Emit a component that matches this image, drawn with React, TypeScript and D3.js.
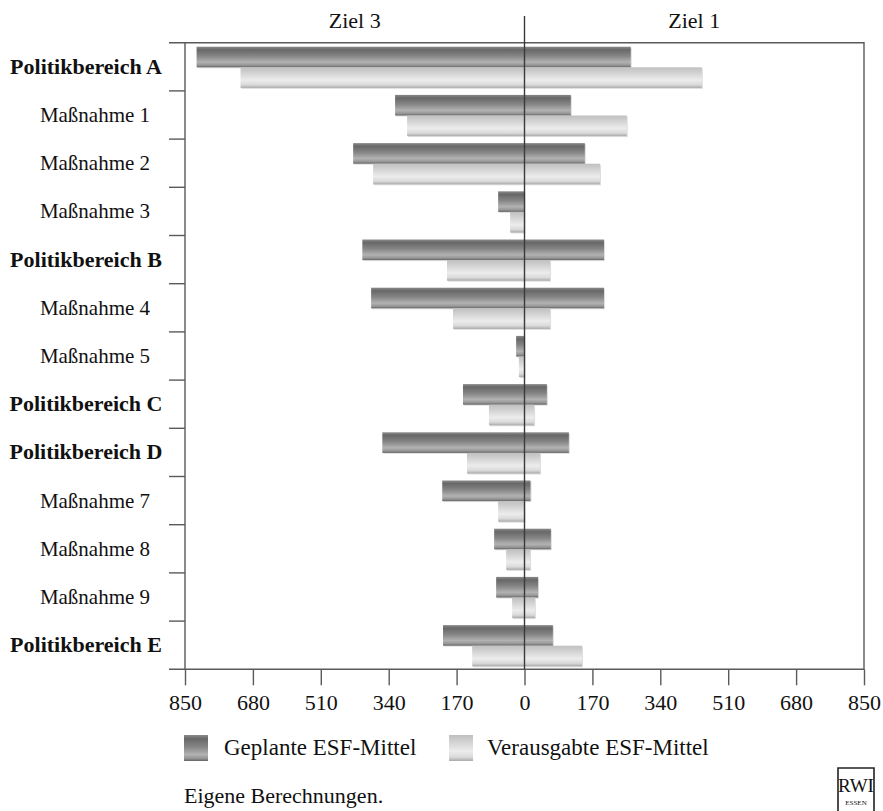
import * as React from 'react';
import { useEffect, useRef } from 'react';
import * as d3 from 'd3';

const categories = [
  'Politikbereich A', 'Maßnahme 1', 'Maßnahme 2', 'Maßnahme 3',
  'Politikbereich B', 'Maßnahme 4', 'Maßnahme 5',
  'Politikbereich C', 'Politikbereich D',
  'Maßnahme 7', 'Maßnahme 8', 'Maßnahme 9', 'Politikbereich E'
];
// Ziel 3 (left) and Ziel 1 (right), in the same order as categories
const geplantZiel3 = [821, 324, 429, 66, 406, 384, 21, 154, 356, 206, 76, 71, 204];
const geplantZiel1 = [266, 116, 151, 0, 199, 199, 0, 56, 111, 15, 66, 34, 71];
const verausgabtZiel3 = [711, 294, 379, 36, 194, 179, 14, 89, 144, 66, 46, 31, 131];
const verausgabtZiel1 = [444, 256, 189, 0, 64, 64, 0, 24, 39, 0, 14, 26, 144];
const tickValues = [-850, -680, -510, -340, -170, 0, 170, 340, 510, 680, 850];
const seriesNames = ['Geplante ESF-Mittel', 'Verausgabte ESF-Mittel'];

const W = 883;
const H = 811;
const FONT = 'Liberation Serif, Times New Roman, serif';

export default function App() {
  const ref = useRef<SVGSVGElement | null>(null);

  useEffect(() => {
    const svg = d3.select(ref.current);
    svg.selectAll('*').remove();

    const left = 185, right = 864, top = 42.7, bottom = 669.3;
    const x = d3.scaleLinear().domain([-850, 850]).range([left, right]);
    const y = d3.scaleBand().domain(categories).range([top, bottom]);
    const bh = 20.6;

    const defs = svg.append('defs');
    const grad = (id: string, stops: [number, string][]) => {
      const g = defs.append('linearGradient').attr('id', id)
        .attr('x1', 0).attr('y1', 0).attr('x2', 0).attr('y2', 1);
      stops.forEach(([o, c]) => g.append('stop').attr('offset', o).attr('stop-color', c));
    };
    grad('dark', [[0, '#8a8a8a'], [0.15, '#686868'], [0.45, '#858585'], [0.75, '#b2b2b2'], [0.9, '#969696'], [1, '#646464']]);
    grad('light', [[0, '#c0c0c0'], [0.2, '#cdcdcd'], [0.62, '#ececec'], [0.85, '#dadada'], [1, '#aaaaaa']]);

    const txt = (sel: any, size: number, weight = 'normal') =>
      sel.attr('font-family', FONT).attr('font-size', size).attr('font-weight', weight).attr('fill', '#111');

    // header
    txt(svg.append('text').attr('x', x(-425)).attr('y', 28).attr('text-anchor', 'middle'), 22).text('Ziel 3');
    txt(svg.append('text').attr('x', x(425)).attr('y', 28).attr('text-anchor', 'middle'), 22).text('Ziel 1');

    // bars
    const rows = categories.map((c, i) => ({
      c,
      series: [
        { z3: geplantZiel3[i], z1: geplantZiel1[i], fill: 'url(#dark)', off: 4 },
        { z3: verausgabtZiel3[i], z1: verausgabtZiel1[i], fill: 'url(#light)', off: 4 + bh },
      ]
    }));
    const barG = svg.append('g');
    rows.forEach(r => {
      r.series.forEach(s => {
        const x0 = x(-s.z3), x1 = x(s.z1);
        if (x1 - x0 <= 0) return;
        barG.append('rect').attr('x', x0 + 1).attr('y', y(r.c)! + s.off + 1)
          .attr('width', x1 - x0).attr('height', bh).attr('fill', '#dedede');
        barG.append('rect').attr('x', x0).attr('y', y(r.c)! + s.off)
          .attr('width', x1 - x0).attr('height', bh).attr('fill', s.fill);
      });
    });

    // frame
    const axisColor = '#5a5a5a';
    svg.append('path')
      .attr('d', `M${left - 16},${top}H${right}V${bottom}H${left - 16}M${left},${top}V${bottom}`)
      .attr('fill', 'none').attr('stroke', axisColor).attr('stroke-width', 1.4);

    // category separators on the left
    svg.append('g').selectAll('line').data(categories.slice(1)).enter().append('line')
      .attr('x1', left - 16).attr('x2', left)
      .attr('y1', d => y(d)!).attr('y2', d => y(d)!)
      .attr('stroke', axisColor).attr('stroke-width', 1.4);

    // bottom axis
    const axis = svg.append('g').attr('transform', `translate(0,${bottom})`)
      .call(d3.axisBottom(x).tickValues(tickValues).tickSize(16)
        .tickFormat(d => String(Math.abs(+d))));
    axis.select('.domain').remove();
    axis.attr('font-family', FONT).attr('font-size', 22);
    axis.selectAll('line').attr('stroke', axisColor).attr('stroke-width', 1.4);
    axis.selectAll('text').attr('y', 41).attr('dy', null).attr('fill', '#111');

    // zero line
    svg.append('line').attr('x1', x(0)).attr('x2', x(0)).attr('y1', 16).attr('y2', bottom)
      .attr('stroke', '#3a3a3a').attr('stroke-width', 1.4);

    // category labels
    const isBold = (d: string) => d.startsWith('Politik');
    svg.append('g').selectAll('text').data(categories).enter().append('text')
      .attr('x', d => isBold(d) ? 86 : 95)
      .attr('y', d => y(d)! + y.bandwidth() / 2 + 7)
      .attr('text-anchor', 'middle')
      .attr('font-family', FONT)
      .attr('font-size', d => isBold(d) ? 22 : 21)
      .attr('font-weight', d => isBold(d) ? 'bold' : 'normal')
      .attr('fill', '#111')
      .text(d => d);

    // legend
    const legend = [
      { name: seriesNames[0], fill: 'url(#dark)', sx: 184, tx: 224 },
      { name: seriesNames[1], fill: 'url(#light)', sx: 449, tx: 487 },
    ];
    legend.forEach(l => {
      svg.append('rect').attr('x', l.sx).attr('y', 735).attr('width', 24).attr('height', 26)
        .attr('fill', l.fill);
      txt(svg.append('text').attr('x', l.tx).attr('y', 755), 23).text(l.name);
    });

    // source
    txt(svg.append('text').attr('x', 184).attr('y', 803), 22).text('Eigene Berechnungen.');

    // RWI mark
    const logo = svg.append('g').attr('transform', 'translate(838,768)');
    logo.append('path').attr('d', 'M0,43V0H36V43').attr('fill', 'none')
      .attr('stroke', '#222').attr('stroke-width', 1.6);
    txt(logo.append('text').attr('x', 18).attr('y', 24).attr('text-anchor', 'middle'), 19).text('RWI');
    txt(logo.append('text').attr('x', 18).attr('y', 37).attr('text-anchor', 'middle'), 7).text('ESSEN');
  }, []);

  return (
    <svg ref={ref} width={W} height={H}
      style={{ position: 'absolute', left: 0, top: 0, background: '#fff' }} />
  );
}
